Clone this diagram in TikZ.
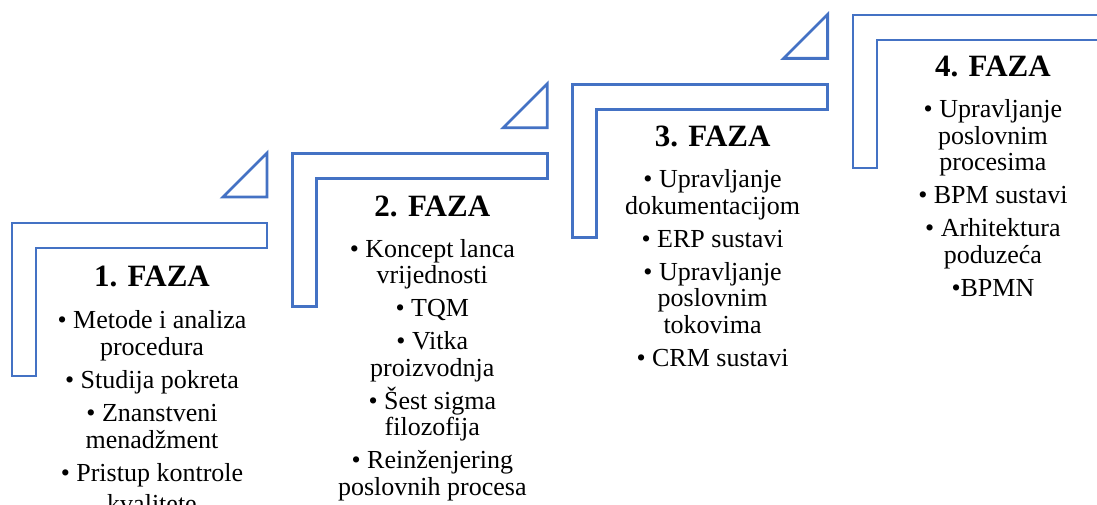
\documentclass[tikz,border=0pt]{standalone}
\usepackage{fontspec}
\setmainfont{Liberation Serif}
\definecolor{stepblue}{HTML}{4472C4}
\begin{document}
\begin{tikzpicture}[x=1pt,y=-1pt,
  frame/.style={draw=stepblue,line width=2.8pt,line join=miter},
  ttl/.style={anchor=base,inner sep=0pt,font=\fontsize{31}{34}\selectfont\bfseries},
  itm/.style={anchor=base,inner sep=0pt,font=\fontsize{26}{28}\selectfont}]
\useasboundingbox (0,0) rectangle (1097,505);
% L-shaped steps and triangles
\foreach \k in {0,1,2,3}{
  \pgfmathsetmacro{\L}{12+280.3*\k}
  \pgfmathsetmacro{\T}{223-69.3*\k}
  \draw[frame] (\L,\T) -- ++(255,0) -- ++(0,25) -- ++(-231,0) -- ++(0,128) -- ++(-24,0) -- cycle;
}
\foreach \k in {0,1,2}{
  \pgfmathsetmacro{\L}{12+280.3*\k}
  \pgfmathsetmacro{\T}{223-69.3*\k}
  \draw[frame] (\L+211,\T-26) -- (\L+255,\T-26) -- (\L+255,\T-70) -- cycle;
}
% Phase 1
\node[ttl] (t1) at (152,286.5) {1. FAZA};
\node[itm] (a1) at (152,328) {• Metode i analiza};
\node[itm] (a2) at (152,355) {procedura};
\node[itm] (a3) at (152,388) {• Studija pokreta};
\node[itm] (a4) at (152,421) {• Znanstveni};
\node[itm] (a5) at (152,448) {menadžment};
\node[itm] (a6) at (152,481) {• Pristup kontrole};
\node[itm] (a7) at (152,512) {kvalitete};
% Phase 2
\node[ttl] (t2) at (432.3,216.3) {2. FAZA};
\node[itm] (b1) at (432.3,257.3) {• Koncept lanca};
\node[itm] (b2) at (432.3,283.8) {vrijednosti};
\node[itm] (b3) at (432.3,316.8) {• TQM};
\node[itm] (b4) at (432.3,349.8) {• Vitka};
\node[itm] (b5) at (432.3,376.3) {proizvodnja};
\node[itm] (b6) at (432.3,409.3) {• Šest sigma};
\node[itm] (b7) at (432.3,435.8) {filozofija};
\node[itm] (b8) at (432.3,468.8) {• Reinženjering};
\node[itm] (b9) at (432.3,495.3) {poslovnih procesa};
% Phase 3
\node[ttl] (t3) at (712.6,146.6) {3. FAZA};
\node[itm] (c1) at (712.6,187.6) {• Upravljanje};
\node[itm] (c2) at (712.6,214.1) {dokumentacijom};
\node[itm] (c3) at (712.6,247.1) {• ERP sustavi};
\node[itm] (c4) at (712.6,280.1) {• Upravljanje};
\node[itm] (c5) at (712.6,306.6) {poslovnim};
\node[itm] (c6) at (712.6,333.1) {tokovima};
\node[itm] (c7) at (712.6,366.1) {• CRM sustavi};
% Phase 4
\node[ttl] (t4) at (992.9,76.9) {4. FAZA};
\node[itm] (d1) at (992.9,117.9) {• Upravljanje};
\node[itm] (d2) at (992.9,144.4) {poslovnim};
\node[itm] (d3) at (992.9,170.9) {procesima};
\node[itm] (d4) at (992.9,203.9) {• BPM sustavi};
\node[itm] (d5) at (992.9,236.9) {• Arhitektura};
\node[itm] (d6) at (992.9,263.4) {poduzeća};
\node[itm] (d7) at (992.9,296.4) {•BPMN};
\end{tikzpicture}
\end{document}
